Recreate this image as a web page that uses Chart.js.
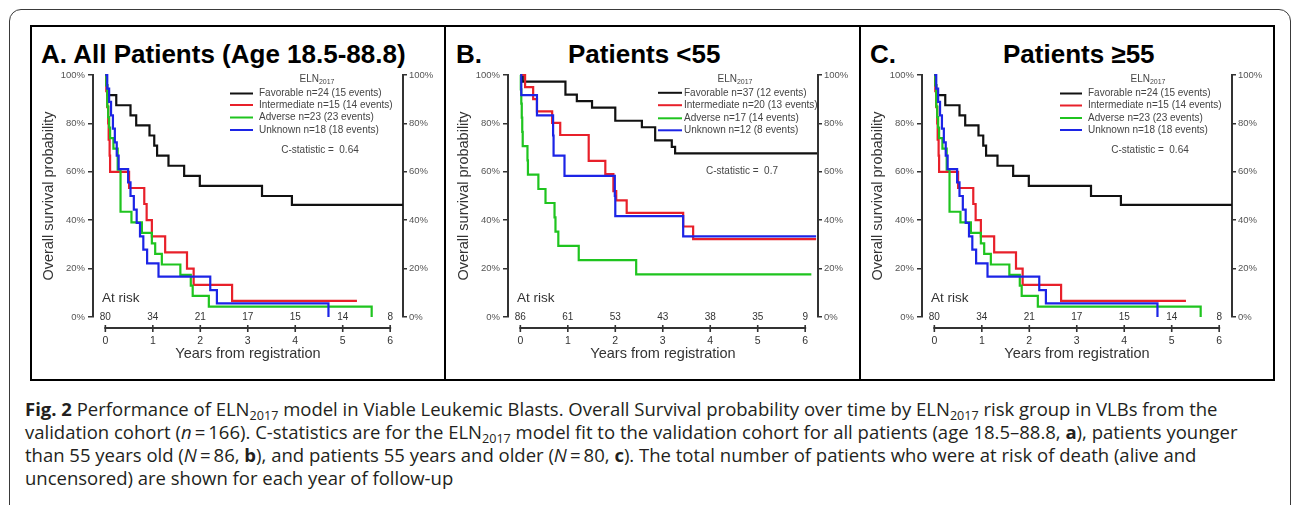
<!DOCTYPE html>
<html><head><meta charset="utf-8">
<script src="https://cdn.jsdelivr.net/npm/chart.js@4"></script>
<style>
html,body{margin:0;padding:0;background:#fff}
body{width:1292px;height:505px;overflow:hidden;position:relative;font-family:"Liberation Sans",Arial,sans-serif}
#outer{position:absolute;left:9px;top:9px;width:1282px;height:560px;border:1.5px solid #3a3a3a;border-radius:12px;box-sizing:border-box}
#frame{position:absolute;left:30px;top:25px;width:1245px;height:356px;border:2px solid #000;box-sizing:border-box}
.vdiv{position:absolute;top:25px;height:356px;width:2px;background:#000}
.title{position:absolute;font-weight:bold;font-size:26px;line-height:30px;top:38.5px;white-space:nowrap;color:#000}
.cw{position:absolute;top:66px;width:410px;height:314px}
#caption{position:absolute;left:25px;top:397px;font-family:"Open Sans",sans-serif;font-size:18.5px;line-height:23px;color:#231f20;white-space:nowrap}
#caption sub{font-size:0.68em;line-height:0;vertical-align:-0.3em}
</style>
</head><body>
<div id="outer"></div>
<div id="frame"></div>
<div class="vdiv" style="left:444px"></div>
<div class="vdiv" style="left:859px"></div>
<div class="title" style="left:41px">A. All Patients (Age 18.5-88.8)</div>
<div class="title" style="left:456px">B.</div>
<div class="title" style="left:568px">Patients &lt;55</div>
<div class="title" style="left:870px">C.</div>
<div class="title" style="left:1003px">Patients ≥55</div>
<div class="cw" style="left:32px"><canvas id="cA" width="410" height="314"></canvas></div>
<div class="cw" style="left:447px"><canvas id="cB" width="410" height="314"></canvas></div>
<div class="cw" style="left:861px"><canvas id="cC" width="410" height="314"></canvas></div>
<div id="caption"><b>Fig. 2</b> Performance of ELN<sub>2017</sub> model in Viable Leukemic Blasts. Overall Survival probability over time by ELN<sub>2017</sub> risk group in VLBs from the<br>validation cohort (<i>n</i>&thinsp;=&thinsp;166). C-statistics are for the ELN<sub>2017</sub> model fit to the validation cohort for all patients (age 18.5–88.8, <b>a</b>), patients younger<br>than 55 years old (<i>N</i>&thinsp;=&thinsp;86, <b>b</b>), and patients 55 years and older (<i>N</i>&thinsp;=&thinsp;80, <b>c</b>). The total number of patients who were at risk of death (alive and<br>uncensored) are shown for each year of follow-up</div>
<script>
// ---------- data ----------
const years = [0, 1, 2, 3, 4, 5, 6];
const yTicks = [0, 20, 40, 60, 80, 100];
const groupColors = ['#111111', '#e8202a', '#1fc41f', '#1c24e6'];

const atRiskA = [80, 34, 21, 17, 15, 14, 8];
const atRiskB = [86, 61, 53, 43, 38, 35, 9];
const atRiskC = [80, 34, 21, 17, 15, 14, 8];

const legendA = ['Favorable n=24 (15 events)', 'Intermediate n=15 (14 events)', 'Adverse n=23 (23 events)', 'Unknown n=18 (18 events)'];
const legendB = ['Favorable n=37 (12 events)', 'Intermediate n=20 (13 events)', 'Adverse n=17 (14 events)', 'Unknown n=12 (8 events)'];
const legendC = ['Favorable n=24 (15 events)', 'Intermediate n=15 (14 events)', 'Adverse n=23 (23 events)', 'Unknown n=18 (18 events)'];
const cStatA = 'C-statistic =  0.64';
const cStatB = 'C-statistic =  0.7';
const cStatC = 'C-statistic =  0.64';

// Panel A (all patients): years, survival %
const tA_fav = [0, 0.02, 0.04, 0.23, 0.53, 0.65, 0.93, 1.03, 1.09, 1.33, 1.66, 1.99, 3.30, 3.93, 6.27];
const sA_fav = [100, 95.8, 91.7, 87.5, 83.3, 79.2, 75.0, 70.8, 66.7, 62.5, 58.3, 54.2, 50.0, 46.3, 46.3];
const tA_int = [0, 0.02, 0.04, 0.06, 0.07, 0.09, 0.10, 0.50, 0.82, 0.87, 0.98, 1.26, 1.72, 1.86, 2.67, 5.30];
const sA_int = [100, 93.3, 86.7, 80.0, 73.3, 66.7, 60.0, 53.3, 46.7, 40.0, 33.3, 26.7, 20.0, 13.3, 6.7, 6.7];
const tA_adv = [0, 0.02, 0.04, 0.06, 0.08, 0.10, 0.17, 0.26, 0.32, 0.55, 0.77, 0.98, 1.05, 1.19, 1.58, 1.80, 1.84, 2.18, 5.61];
const sA_adv = [100, 95.7, 87.0, 82.6, 78.3, 73.9, 69.6, 60.9, 43.5, 39.1, 34.8, 30.4, 26.1, 21.7, 17.4, 13.0, 8.7, 4.3, 0];
const tA_unk = [0, 0.04, 0.08, 0.12, 0.16, 0.20, 0.24, 0.28, 0.48, 0.53, 0.60, 0.66, 0.73, 0.80, 0.88, 1.12, 2.21, 2.35, 4.70];
const sA_unk = [100, 94.4, 88.9, 83.3, 77.8, 72.2, 66.7, 61.1, 55.6, 50.0, 44.4, 38.9, 33.3, 27.8, 22.2, 16.7, 11.1, 5.6, 0];

// Panel B (patients < 55)
const tB_fav = [0, 0.05, 0.95, 1.19, 1.51, 2.00, 2.56, 2.84, 3.19, 3.26, 6.25];
const sB_fav = [100, 97.3, 91.9, 89.2, 86.5, 81.1, 78.4, 73.0, 70.3, 67.6, 67.6];
const tB_int = [0, 0.10, 0.27, 0.35, 0.67, 0.84, 1.44, 1.79, 1.96, 2.02, 2.24, 3.43, 3.64, 6.23];
const sB_int = [100, 95.0, 90.0, 85.0, 80.2, 75.2, 64.5, 59.0, 52.0, 48.2, 43.0, 37.4, 32.2, 32.2];
const tB_adv = [0, 0.01, 0.02, 0.03, 0.04, 0.05, 0.15, 0.16, 0.38, 0.53, 0.72, 0.74, 0.80, 1.23, 2.44, 6.13];
const sB_adv = [100, 94.1, 88.2, 82.4, 76.5, 70.6, 64.7, 58.8, 52.9, 47.1, 41.2, 35.3, 29.4, 23.5, 17.6, 17.6];
const tB_unk = [0, 0.02, 0.35, 0.69, 0.70, 0.93, 1.99, 2.00, 3.43, 6.23];
const sB_unk = [100, 91.7, 83.3, 75.0, 66.7, 58.3, 50.0, 41.7, 33.3, 33.3];

// Panel C (patients >= 55) — the reference shows the same curves as panel A
const tC_fav = tA_fav, sC_fav = sA_fav;
const tC_int = tA_int, sC_int = sA_int;
const tC_adv = tA_adv, sC_adv = sA_adv;
const tC_unk = tA_unk, sC_unk = sA_unk;

// ---------- drawing ----------
Chart.defaults.font.family = '"Liberation Sans", Arial, sans-serif';
const FONT = '"Liberation Sans", Arial, sans-serif';

const kmDecor = {
  id: 'kmDecor',
  afterDraw(chart, args, o) {
    const ctx = chart.ctx, ca = chart.chartArea, xs = chart.scales.x;
    ctx.save();
    // detached x axis line with crossing ticks
    const yAx = ca.bottom + 11;
    ctx.strokeStyle = '#333'; ctx.lineWidth = 2;
    ctx.beginPath();
    ctx.moveTo(xs.getPixelForValue(years[0]) - 1, yAx);
    ctx.lineTo(xs.getPixelForValue(years[years.length - 1]) + 1, yAx);
    ctx.stroke();
    ctx.lineWidth = 1.6;
    years.forEach(v => {
      const px = xs.getPixelForValue(v);
      ctx.beginPath(); ctx.moveTo(px, yAx - 3); ctx.lineTo(px, yAx + 4); ctx.stroke();
    });
    // at-risk numbers
    ctx.fillStyle = '#333';
    ctx.font = '10px ' + FONT; ctx.textAlign = 'center'; ctx.textBaseline = 'middle';
    o.atRisk.forEach((n, i) => ctx.fillText(String(n), xs.getPixelForValue(years[i]), ca.bottom));
    ctx.textAlign = 'left'; ctx.font = '13.5px ' + FONT;
    ctx.fillText('At risk', ca.left + 9, ca.bottom - 19);
    // legend title ELN2017
    ctx.fillStyle = '#444';
    ctx.font = '10px ' + FONT;
    const w1 = ctx.measureText('ELN').width;
    ctx.font = '7px ' + FONT;
    const w2 = ctx.measureText('2017').width;
    const tx = ca.left + o.pos.title - (w1 + w2) / 2;
    ctx.font = '10px ' + FONT; ctx.textAlign = 'left';
    ctx.fillText('ELN', tx, ca.top + 4);
    ctx.font = '7px ' + FONT;
    ctx.fillText('2017', tx + w1, ca.top + 7);
    // legend rows
    ctx.font = '10px ' + FONT;
    o.legend.forEach((lab, i) => {
      const yy = ca.top + o.pos.rows[i];
      ctx.strokeStyle = groupColors[i]; ctx.lineWidth = 2;
      ctx.beginPath(); ctx.moveTo(ca.left + o.pos.l0, yy); ctx.lineTo(ca.left + o.pos.l1, yy); ctx.stroke();
      ctx.fillStyle = '#444';
      ctx.fillText(lab, ca.left + o.pos.tx, yy);
    });
    // C-statistic
    ctx.textAlign = 'center';
    ctx.fillText(o.cstat, ca.left + o.pos.cx, ca.top + o.pos.cy);
    ctx.restore();
  }
};

function series(t, s) { return t.map((x, i) => ({ x: x, y: s[i] })); }

function makePanel(id, curves, atRisk, legend, cstat, pos) {
  const names = ['Favorable', 'Intermediate', 'Adverse', 'Unknown'];
  const orders = [3, 2, 1, 0];
  const datasets = curves.map((c, i) => ({
    label: names[i],
    data: series(c[0], c[1]),
    stepped: 'before',
    borderColor: groupColors[i],
    borderWidth: 2.2,
    pointRadius: 0,
    fill: false,
    clip: false,
    order: orders[i]
  }));
  const yCommon = (pos2) => ({
    type: 'linear', position: pos2, min: 0, max: 100,
    afterBuildTicks: (ax) => { ax.ticks = yTicks.map(v => ({ value: v })); },
    ticks: { callback: v => v + '%', color: '#555', font: { size: 9.5 }, padding: 3 },
    grid: { display: true, drawOnChartArea: false, drawTicks: true, tickLength: 5, color: '#333', lineWidth: 1.5 },
    border: { display: true, color: '#333', width: 2 }
  });
  const yl = yCommon('left');
  yl.afterFit = (s) => { s.width = 61; };
  yl.title = { display: true, text: 'Overall survival probability', color: '#333', font: { size: 14.5 }, padding: { top: 8, bottom: 0 } };
  const yr = yCommon('right');
  yr.afterFit = (s) => { s.width = 39; };
  yr.ticks.padding = 2;
  yr.grid.tickLength = 4;
  new Chart(document.getElementById(id), {
    type: 'line',
    data: { datasets: datasets },
    options: {
      responsive: false, animation: false, devicePixelRatio: 1,
      layout: { padding: { top: 9, left: 0, right: 0, bottom: 0 } },
      plugins: { legend: { display: false }, tooltip: { enabled: false }, kmDecor: { atRisk, legend, cstat, pos } },
      scales: {
        x: {
          type: 'linear', min: -0.26, max: 6.27,
          afterBuildTicks: (ax) => { ax.ticks = years.map(v => ({ value: v })); },
          afterFit: (s) => { s.height = 63; },
          ticks: { color: '#333', font: { size: 10.5 }, padding: 18, maxRotation: 0 },
          grid: { display: true, drawOnChartArea: false, drawTicks: false },
          border: { display: false },
          title: { display: true, text: 'Years from registration', color: '#333', font: { size: 14.5 }, padding: { top: 0, bottom: 17 } }
        },
        y: yl,
        y2: yr
      }
    },
    plugins: [kmDecor]
  });
}

const posA = { title: 224, l0: 137, l1: 160, tx: 166, rows: [18.5, 30, 42.5, 55], cx: 227, cy: 75 };
const posB = { title: 227, l0: 150, l1: 174, tx: 176, rows: [17.8, 30.2, 43.3, 55.3], cx: 234, cy: 96 };
const posC = { title: 226, l0: 138, l1: 160, tx: 166, rows: [18.5, 30.5, 43, 55], cx: 228, cy: 75 };

makePanel('cA', [[tA_fav, sA_fav], [tA_int, sA_int], [tA_adv, sA_adv], [tA_unk, sA_unk]], atRiskA, legendA, cStatA, posA);
makePanel('cB', [[tB_fav, sB_fav], [tB_int, sB_int], [tB_adv, sB_adv], [tB_unk, sB_unk]], atRiskB, legendB, cStatB, posB);
makePanel('cC', [[tC_fav, sC_fav], [tC_int, sC_int], [tC_adv, sC_adv], [tC_unk, sC_unk]], atRiskC, legendC, cStatC, posC);
</script>
</body></html>
